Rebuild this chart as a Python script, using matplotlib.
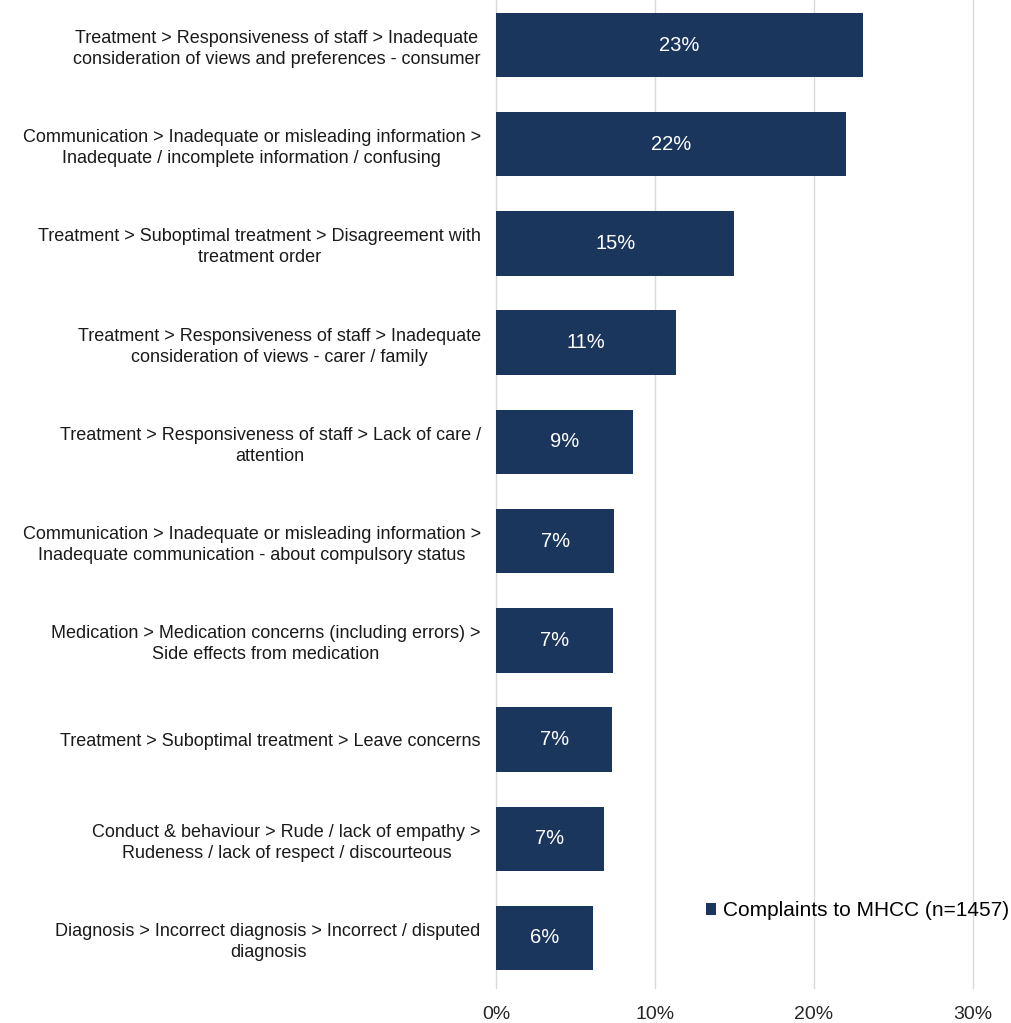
import matplotlib
matplotlib.use("Agg")
import matplotlib.pyplot as plt
from matplotlib.ticker import FuncFormatter

plt.rcParams['font.family'] = ['Liberation Sans', 'DejaVu Sans']

categories = [
    "Treatment > Responsiveness of staff > Inadequate\nconsideration of views and preferences - consumer",
    "Communication > Inadequate or misleading information >\nInadequate / incomplete information / confusing",
    "Treatment > Suboptimal treatment > Disagreement with\ntreatment order",
    "Treatment > Responsiveness of staff > Inadequate\nconsideration of views - carer / family",
    "Treatment > Responsiveness of staff > Lack of care /\nattention",
    "Communication > Inadequate or misleading information >\nInadequate communication - about compulsory status",
    "Medication > Medication concerns (including errors) >\nSide effects from medication",
    "Treatment > Suboptimal treatment > Leave concerns",
    "Conduct & behaviour > Rude / lack of empathy >\nRudeness / lack of respect / discourteous",
    "Diagnosis > Incorrect diagnosis > Incorrect / disputed\ndiagnosis",
]
# share of complaints, percent
shares = [23.1, 22.0, 15.0, 11.3, 8.6, 7.45, 7.38, 7.32, 6.8, 6.1]
series_name = "Complaints to MHCC (n=1457)"
x_ticks = [0, 10, 20, 30]

bar_color = "#1b365d"

fig = plt.figure(figsize=(10.11, 10.23), dpi=100)
ax = fig.add_axes([0.4906, 0.0346, 0.4718, 0.9699])

ypos = list(range(len(categories)))
bars = ax.barh(ypos, shares, height=0.65, color=bar_color, label=series_name, zorder=3)

for b, v in zip(bars, shares):
    ax.text(b.get_width() / 2, b.get_y() + b.get_height() / 2, f"{v:.0f}%",
            ha='center', va='center', color='white', fontsize=14.5, zorder=4)

ax.set_ylim(len(categories) - 0.5, -0.5)
ax.set_xlim(0, 30)
ax.set_xticks(x_ticks)
ax.xaxis.set_major_formatter(FuncFormatter(lambda v, p: f"{v:.0f}%"))
ax.set_yticks(ypos)
ax.set_yticklabels(categories, multialignment='center', fontsize=13, linespacing=1.3,
                   color='#1a1a1a')
ax.tick_params(axis='y', length=0, pad=11)
ax.tick_params(axis='x', length=0, pad=13, labelsize=14, labelcolor='#262626')

ax.grid(axis='x', color='#d9d9d9', linewidth=1, zorder=0)
# keep the 30% line fully visible at the right edge
for line in ax.get_xgridlines():
    line.set_clip_on(False)
for s in ax.spines.values():
    s.set_visible(False)

ax.legend(loc='center left', bbox_to_anchor=(706 / 1011, 1 - 911 / 1023),
          bbox_transform=fig.transFigure, frameon=False, fontsize=15,
          handlelength=0.5, handleheight=0.5, handletextpad=0.3, borderpad=0, borderaxespad=0)

fig.savefig("out.png", dpi=100)
